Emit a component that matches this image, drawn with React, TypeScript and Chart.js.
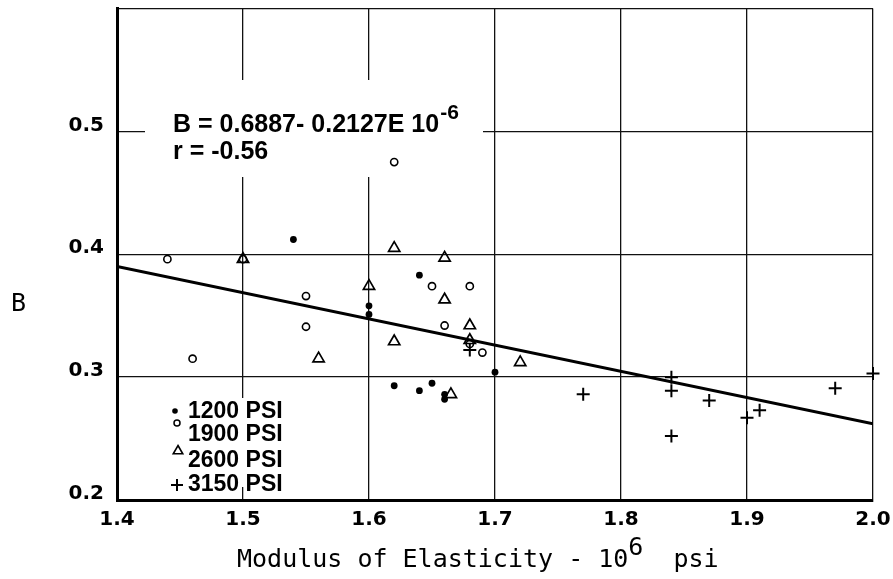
import React, { useEffect, useRef } from 'react';
import { Chart, registerables } from 'chart.js';

Chart.register(...registerables);

// ---- data ----
const seriesLabels = ['1200 PSI', '1900 PSI', '2600 PSI', '3150 PSI'];

const psi1200: [number, number][] = [
  [1.54, 0.412], [1.64, 0.383], [1.60, 0.358], [1.60, 0.351], [1.70, 0.304],
  [1.62, 0.293], [1.64, 0.289], [1.65, 0.295], [1.66, 0.286], [1.66, 0.282],
];
const psi1900: [number, number][] = [
  [1.44, 0.396], [1.50, 0.396], [1.55, 0.366], [1.55, 0.341], [1.46, 0.315],
  [1.62, 0.475], [1.65, 0.374], [1.68, 0.374], [1.66, 0.342], [1.69, 0.320],
  [1.68, 0.327],
];
const psi2600: [number, number][] = [
  [1.62, 0.405], [1.66, 0.397], [1.50, 0.396], [1.60, 0.374], [1.66, 0.363],
  [1.68, 0.342], [1.68, 0.330], [1.62, 0.329], [1.56, 0.315], [1.665, 0.286],
  [1.72, 0.312],
];
const psi3150: [number, number][] = [
  [1.77, 0.286], [1.84, 0.300], [1.84, 0.289], [1.84, 0.252], [1.87, 0.281],
  [1.90, 0.267], [1.91, 0.273], [1.97, 0.291], [2.00, 0.303], [1.68, 0.322],
];
const regressionLine: [number, number][] = [[1.4, 0.390], [2.0, 0.262]];

const xRange = [1.4, 2.0];
const yRange = [0.2, 0.6];
const tickStep = 0.1;

const equationLine1 = 'B = 0.6887- 0.2127E 10';
const equationSup = '-6';
const equationLine2 = 'r = -0.56';
const xTitleMain = 'Modulus of Elasticity - 10';
const xTitleSup = '6';
const xTitleUnit = 'psi';
const yTitle = 'B';

const toPts = (a: [number, number][]) => a.map(([x, y]) => ({ x, y }));

const overlay = {
  id: 'overlay',
  beforeDatasetsDraw(chart: any) {
    const c = chart.ctx;
    c.save();
    c.fillStyle = '#fff';
    c.fillRect(145, 80, 338, 97);
    c.fillRect(125, 398, 180, 89);
    c.restore();
  },
  afterDraw(chart: any) {
    const c = chart.ctx as CanvasRenderingContext2D;
    c.save();
    c.fillStyle = '#000';
    c.strokeStyle = '#000';
    c.textBaseline = 'alphabetic';
    c.textAlign = 'left';

    // equation
    c.font = 'bold 25px "Liberation Sans"';
    c.fillText(equationLine1, 173, 132);
    const w1 = c.measureText(equationLine1).width;
    c.font = 'bold 21px "Liberation Sans"';
    c.fillText(equationSup, 173 + w1 + 1, 119);
    c.font = 'bold 25px "Liberation Sans"';
    c.fillText(equationLine2, 173, 159);

    // legend
    c.font = 'bold 23px "Liberation Sans"';
    const baselines = [418, 441, 467, 491];
    const markers = [[175, 411], [177, 423], [178, 451], [177, 485]];
    seriesLabels.forEach((lab, i) => {
      c.fillText(lab, 188, baselines[i]);
      const [mx, my] = markers[i];
      c.beginPath();
      if (i === 0) {
        c.arc(mx, my, 2.8, 0, Math.PI * 2);
        c.fill();
      } else if (i === 1) {
        c.lineWidth = 1.5;
        c.arc(mx, my, 3, 0, Math.PI * 2);
        c.stroke();
      } else if (i === 2) {
        c.lineWidth = 1.6;
        const r = 5.5;
        for (let k = 0; k < 3; k++) {
          const a = -Math.PI / 2 + (k * 2 * Math.PI) / 3;
          const px = mx + r * Math.cos(a);
          const py = my + r * Math.sin(a);
          if (k === 0) c.moveTo(px, py); else c.lineTo(px, py);
        }
        c.closePath();
        c.stroke();
      } else {
        c.lineWidth = 2;
        c.moveTo(mx - 6, my); c.lineTo(mx + 6, my);
        c.moveTo(mx, my - 6); c.lineTo(mx, my + 6);
        c.stroke();
      }
    });

    // x title
    c.font = '25px "DejaVu Sans Mono"';
    const cw = c.measureText('M').width;
    const x0 = 237;
    c.fillText(xTitleMain, x0, 567);
    c.fillText(xTitleSup, x0 + 26 * cw, 555);
    c.fillText(xTitleUnit, x0 + 29 * cw, 567);

    // y title
    c.fillText(yTitle, 11, 311);
    c.restore();
  },
};

export default function App() {
  const ref = useRef<HTMLCanvasElement>(null);
  useEffect(() => {
    document.body.style.margin = '0';
    const canvas = ref.current!;
    const chart = new Chart(canvas, {
      type: 'scatter',
      data: {
        datasets: [
          {
            label: seriesLabels[0],
            data: toPts(psi1200),
            pointStyle: 'circle',
            pointRadius: 3.4,
            backgroundColor: '#000',
            borderColor: '#000',
            borderWidth: 0,
            clip: false,
          },
          {
            label: seriesLabels[1],
            data: toPts(psi1900),
            pointStyle: 'circle',
            pointRadius: 3.6,
            backgroundColor: 'rgba(0,0,0,0)',
            borderColor: '#000',
            borderWidth: 1.6,
            clip: false,
          },
          {
            label: seriesLabels[2],
            data: toPts(psi2600),
            pointStyle: 'triangle',
            pointRadius: 6.5,
            backgroundColor: 'rgba(0,0,0,0)',
            borderColor: '#000',
            borderWidth: 1.7,
            clip: false,
          },
          {
            label: seriesLabels[3],
            data: toPts(psi3150),
            pointStyle: 'cross',
            pointRadius: 6.5,
            backgroundColor: 'rgba(0,0,0,0)',
            borderColor: '#000',
            borderWidth: 2,
            clip: false,
          },
          {
            type: 'line',
            label: 'fit',
            data: toPts(regressionLine),
            borderColor: '#000',
            borderWidth: 3,
            pointRadius: 0,
            fill: false,
          } as any,
        ],
      },
      options: {
        animation: false,
        responsive: false,
        maintainAspectRatio: false,
        events: [],
        layout: { padding: { left: 0, top: 8, right: 20, bottom: 0 } },
        plugins: {
          legend: { display: false },
          tooltip: { enabled: false },
          title: { display: false },
        },
        scales: {
          x: {
            type: 'linear',
            min: xRange[0],
            max: xRange[1],
            afterFit(scale: any) {
              scale.height = 79;
              scale.paddingLeft = 0;
              scale.paddingRight = 0;
            },
            ticks: {
              stepSize: tickStep,
              padding: 8,
              color: '#000',
              font: { family: 'DejaVu Sans', size: 20, weight: 'bold' },
              maxRotation: 0,
              callback: (v: any) => Number(v).toFixed(1),
            },
            grid: { color: '#111', lineWidth: 1.3, drawTicks: false },
            border: { display: true, color: '#000', width: 3 },
          },
          y: {
            type: 'linear',
            min: yRange[0],
            max: yRange[1],
            afterFit(scale: any) {
              scale.width = 117;
              scale.paddingTop = 0;
              scale.paddingBottom = 0;
            },
            ticks: {
              stepSize: tickStep,
              padding: 13,
              labelOffset: -6,
              color: '#000',
              font: { family: 'DejaVu Sans', size: 20, weight: 'bold' },
              callback: (v: any) => (Number(v) > 0.55 ? '' : Number(v).toFixed(1)),
            },
            grid: { color: '#111', lineWidth: 1.3, drawTicks: false },
            border: { display: true, color: '#000', width: 3 },
          },
        },
      },
      plugins: [overlay],
    });
    return () => chart.destroy();
  }, []);
  return (
    <div style={{ width: 893, height: 579, position: 'relative' }}>
      <canvas ref={ref} width={893} height={579} style={{ width: 893, height: 579, display: 'block' }} />
    </div>
  );
}
